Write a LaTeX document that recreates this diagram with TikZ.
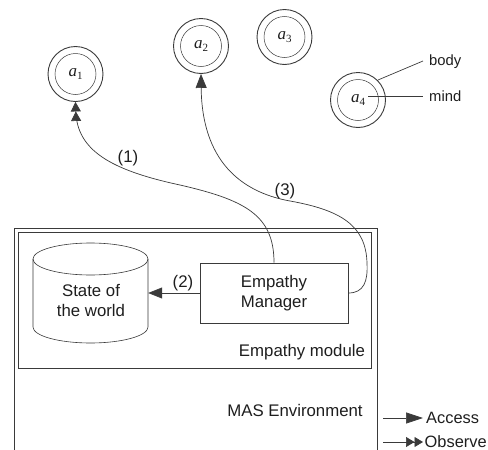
\documentclass[tikz,border=0pt]{standalone}
\usepackage{fontspec}
\setmainfont{Liberation Sans}
\newfontfamily\agentfont{Liberation Serif}
\usetikzlibrary{arrows.meta}
\definecolor{ln}{HTML}{3A3A3A}
\definecolor{tx}{HTML}{1E1E1E}
\begin{document}
\begin{tikzpicture}[x=1pt,y=-1pt,
  lbl/.style={font=\fontsize{16.8}{19}\selectfont, text=tx, inner sep=0pt},
  leg/.style={font=\fontsize{16.4}{19}\selectfont, text=tx, inner sep=0pt, anchor=west},
  small/.style={font=\fontsize{14.8}{17}\selectfont, text=tx, inner sep=0pt, anchor=west},
  agent/.style={circle, draw=ln, line width=0.9pt, minimum size=55pt, inner sep=0pt,
     font=\agentfont\fontsize{17}{19}\selectfont\itshape, text=tx},
  box/.style={draw=ln, line width=0.8pt},
  conn/.style={draw=ln, line width=0.7pt},
  access/.style={conn, -{Triangle[length=14pt,width=11pt]}},
  observe/.style={conn, -{Triangle[length=9.5pt,width=10pt]Triangle[length=9.5pt,width=10pt]}}
]
\useasboundingbox (0,0) rectangle (488,450);

% agents
\node[agent] (a1) at (75.5,74) {a\raisebox{-2.5pt}{\fontsize{11}{12}\selectfont\upshape 1}};
\node[agent] (a2) at (201,46) {a\raisebox{-2.5pt}{\fontsize{11}{12}\selectfont\upshape 2}};
\node[agent] (a3) at (284.5,37) {a\raisebox{-2.5pt}{\fontsize{11}{12}\selectfont\upshape 3}};
\node[agent] (a4) at (358,100) {a\raisebox{-2.5pt}{\fontsize{11}{12}\selectfont\upshape 4}};
\foreach \a in {a1,a2,a3,a4}
  \draw[draw=ln, line width=0.5pt] (\a.center) circle[radius=20.5pt];

% body / mind
\node[small] (body) at (429,62) {body};
\node[small] (mind) at (429,96) {mind};
\coordinate (bodyp) at (378,80);
\coordinate (bodyq) at (423,61);
\coordinate (mindp) at (368,96);
\coordinate (mindq) at (423,96);
\draw[conn] (bodyp) -- (bodyq);
\draw[conn] (mindp) -- (mindq);

% MAS environment (open at bottom)
\draw[box] (14,450) -- (14,228) -- (377,228) -- (377,450);
\node[lbl] (mas) at (295,410) {MAS Environment};

% Empathy module
\node[box, minimum width=353pt, minimum height=136pt, inner sep=0pt] (mod) at (194.5,300) {};
\node[lbl] (modl) at (302,352) {Empathy module};

% State of the world (cylinder)
\node[minimum width=115pt, minimum height=100pt, inner sep=0pt] (cyl) at (90.5,293) {};
\draw[box, line width=0.6pt] (33,259) -- (33,327) arc[start angle=180, end angle=360, x radius=57.5pt, y radius=16pt] -- (148,259);
\draw[box, line width=0.6pt] (90.5,259) ellipse[x radius=57.5pt, y radius=16pt];
\node[lbl, align=center] (sowt) at (91,301) {State of\\[1pt]the world};

% Empathy Manager
\node[box, minimum width=148pt, minimum height=60pt, inner sep=0pt, lbl, align=center] (em) at (274,293) {Empathy\\[1pt]Manager};

% connectors
\draw[observe] (em.north) .. controls (274,215) and (245,200) .. (180,185)
   .. controls (110,170) and (77,150) .. (a1.south);
\node[lbl] (l1) at (128,158) {(1)};

\draw[access] (em.west) -- (cyl.east);
\node[lbl] (l2) at (183,283) {(2)};

\draw[access] (em.east) .. controls (364,293) and (368,281) .. (367,263)
   .. controls (366,225) and (340,210) .. (290,201)
   .. controls (240,192) and (202,160) .. (a2.south);
\node[lbl] (l3) at (285,191) {(3)};

% legend
\coordinate (la0) at (383,418);
\coordinate (la1) at (423,418);
\coordinate (lo0) at (383,442);
\coordinate (lo1) at (423,442);
\draw[conn, -{Triangle[length=17pt,width=11pt]}] (la0) -- (la1);
\draw[conn, -{Triangle[length=8.5pt,width=10pt]Triangle[length=8.5pt,width=10pt]}] (lo0) -- (lo1);
\node[leg] (acc) at (426,418) {Access};
\node[leg] (obs) at (424.5,442) {Observe};
\end{tikzpicture}
\end{document}
